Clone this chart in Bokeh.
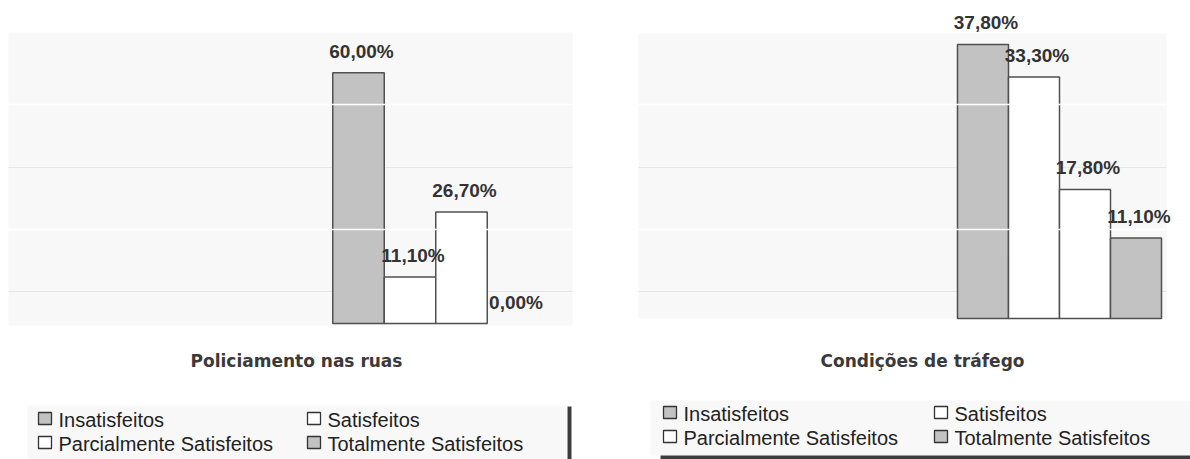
from bokeh.plotting import figure
from bokeh.layouts import row
from bokeh.models import Range1d, ColumnDataSource
from bokeh.embed import file_html
from bokeh.resources import INLINE
from bokeh.core.properties import value

# ---- data ----
categories = ["Insatisfeitos", "Satisfeitos", "Parcialmente Satisfeitos", "Totalmente Satisfeitos"]
policiamento = [60.0, 11.1, 26.7, 0.0]
trafego = [37.8, 33.3, 17.8, 11.1]
titles = ["Policiamento nas ruas", "Condições de tráfego"]
bar_colors = ["#c2c2c2", "#ffffff", "#ffffff", "#c2c2c2"]

W, H = 595, 459


def fmt(v):
    return f"{v:.2f}%".replace(".", ",")


def panel(vals, title, cfg):
    zero_px, ppu = cfg["zero_px"], cfg["ppu"]
    p = figure(width=W, height=H, output_backend="svg", toolbar_location=None,
               x_range=Range1d(0, W),
               y_range=Range1d(-(H - zero_px) / ppu, zero_px / ppu),
               min_border=0, background_fill_color="white",
               border_fill_color="white", outline_line_color=None)
    p.axis.visible = False
    p.grid.visible = False
    p.extra_y_ranges = {"px": Range1d(H, 0)}

    # plot background (scan tint)
    bl, br, bt, bb = cfg["bg"]
    p.quad(left=[bl], right=[br], top=[bt], bottom=[bb], y_range_name="px",
           fill_color="#f8f8f8", line_color=None)
    # legend background
    ll, lr, lt, lb = cfg["legbg"]
    p.quad(left=[ll], right=[lr], top=[lt], bottom=[lb], y_range_name="px",
           fill_color="#f8f8f8", line_color=None)
    # faint gray grid lines
    p.segment(x0=[bl, bl], x1=[br, br], y0=[167, 291], y1=[167, 291], y_range_name="px",
              line_color="#e6e6e6", line_width=1)

    x0, bw = cfg["first_center"], cfg["bar_w"]
    xs = [x0 + i * bw for i in range(len(vals))]
    src = ColumnDataSource(dict(x=xs, top=vals, color=bar_colors,
                                edge=[0.0 if v == 0 else 1.0 for v in vals],
                                label=[fmt(v) for v in vals]))
    p.vbar(x="x", top="top", bottom=0, width=bw, source=src,
           fill_color="color", line_color="#505050", line_alpha="edge", line_width=1.5)

    # white scan lines across bars
    p.segment(x0=[bl, bl], x1=[br, br], y0=[104, 229], y1=[104, 229], y_range_name="px",
              line_color="white", line_width=1.5)

    p.text(x="x", y="top", text="label", source=src, text_align="center",
           text_baseline="bottom", y_offset=-11, x_offset=3,
           text_font=value("Liberation Sans"), text_font_style="bold",
           text_font_size="19px", text_color="#333333")

    # title
    p.text(x=[cfg["title_x"]], y=[360], text=[title], y_range_name="px",
           text_align="center", text_baseline="middle",
           text_font=value("DejaVu Sans"), text_font_style="bold",
           text_font_size="17px", text_color="#3a3a3a")

    # legend
    c1, c2 = cfg["leg_cols"]
    r1, r2 = cfg["leg_rows"]
    pos = [(c1, r1), (c2, r1), (c1, r2), (c2, r2)]
    sq = 13
    p.quad(left=[a for a, b in pos], right=[a + sq for a, b in pos],
           top=[b - 6 for a, b in pos], bottom=[b + 6 for a, b in pos],
           y_range_name="px", fill_color=bar_colors, line_color="#333333", line_width=1.3)
    p.text(x=[a + sq + 7 for a, b in pos], y=[b + 1 for a, b in pos], text=categories,
           y_range_name="px", text_align="left", text_baseline="middle",
           text_font=value("Liberation Sans"), text_font_size="20px",
           text_color="#222222")

    for seg in cfg["dark"]:
        p.quad(left=[seg[0]], right=[seg[1]], top=[seg[2]], bottom=[seg[3]],
               y_range_name="px", fill_color="#3c3c3c", line_color=None)
    return p


left_cfg = dict(zero_px=323, ppu=4.18, first_center=358, bar_w=51.5,
                bg=(8, 572, 32, 325), legbg=(27, 566, 405, 459),
                title_x=296, leg_cols=(38, 307), leg_rows=(418, 442),
                dark=[(567, 571, 406, 459)])
right_cfg = dict(zero_px=318, ppu=7.25, first_center=387.5, bar_w=51,
                 bg=(43, 571, 33, 318), legbg=(55, 595, 400, 455),
                 title_x=327, leg_cols=(68, 339), leg_rows=(412, 436),
                 dark=[(65, 595, 455, 459)])

p1 = panel(policiamento, titles[0], left_cfg)
p2 = panel(trafego, titles[1], right_cfg)
layout = row(p1, p2, spacing=0)

open("out.html", "w").write(file_html(layout, INLINE))
